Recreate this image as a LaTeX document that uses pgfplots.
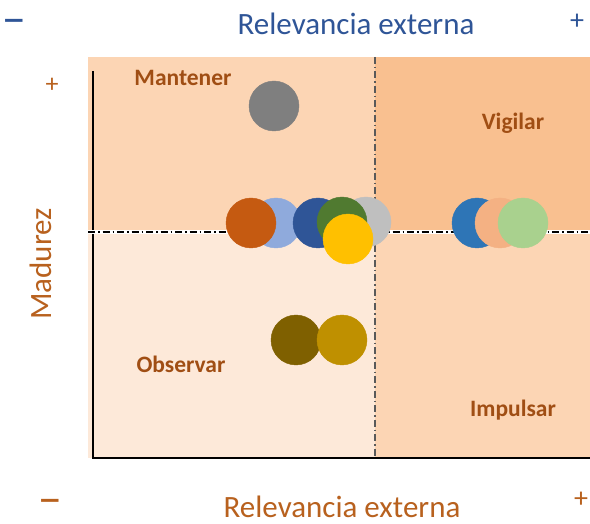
\documentclass[border=0pt]{standalone}
\usepackage{fontspec}
\setmainfont{Carlito}
\usepackage{graphicx}
\usepackage{pgfplots}
\pgfplotsset{compat=1.18}

\definecolor{bgtl}{RGB}{252,213,180}
\definecolor{bgtr}{RGB}{249,192,144}
\definecolor{bgbl}{RGB}{253,233,217}
\definecolor{bgbr}{RGB}{252,213,180}
\definecolor{titleblue}{RGB}{47,85,151}
\definecolor{axbrown}{RGB}{184,97,30}
\definecolor{lblbrown}{RGB}{160,78,20}
\definecolor{cOrange}{RGB}{197,90,17}
\definecolor{cLBlue}{RGB}{143,170,220}
\definecolor{cDBlue}{RGB}{47,85,151}
\definecolor{cGreen}{RGB}{80,122,48}
\definecolor{cLGray}{RGB}{191,191,191}
\definecolor{cYellow}{RGB}{255,192,0}
\definecolor{cGray}{RGB}{127,127,127}
\definecolor{cBlue}{RGB}{46,117,182}
\definecolor{cPeach}{RGB}{244,177,131}
\definecolor{cLGreen}{RGB}{169,209,142}
\definecolor{cOlive}{RGB}{127,96,0}
\definecolor{cGold}{RGB}{191,144,0}

\tikzset{ddot/.style={dash pattern=on 7pt off 3pt on 1.5pt off 3pt}}

\begin{document}
\begin{tikzpicture}
\begin{axis}[
  scale only axis, width=590pt, height=524pt,
  xmin=0, xmax=590, ymin=0, ymax=524, y dir=reverse,
  hide axis, clip=false,
  bubble/.style={only marks, mark=*, mark size=25pt},
]
% quadrants
\addplot[fill=bgtl, draw=none] coordinates {(88,57) (375,57) (375,232) (88,232)} -- cycle;
\addplot[fill=bgtr, draw=none] coordinates {(375,57) (590,57) (590,232) (375,232)} -- cycle;
\addplot[fill=bgbl, draw=none] coordinates {(88,232) (375,232) (375,458) (88,458)} -- cycle;
\addplot[fill=bgbr, draw=none] coordinates {(375,232) (590,232) (590,458) (375,458)} -- cycle;
% axis lines
\addplot[black, line width=2.6pt] coordinates {(93,71) (93,458) (590,458)};
% divider lines
\addplot[white, line width=4pt] coordinates {(88,232) (590,232)};
\addplot[black, line width=1.4pt, ddot] coordinates {(88,232) (590,232)};
\addplot[black!65, line width=1.4pt, ddot] coordinates {(375,57) (375,458)};
% bubbles
\addplot[bubble, cGray, mark options={draw=cGray, fill=cGray}] coordinates {(274,106)};
\addplot[bubble, cLBlue, mark options={draw=cLBlue, fill=cLBlue}] coordinates {(276,223)};
\addplot[bubble, cOrange, mark options={draw=cOrange, fill=cOrange}] coordinates {(251,223)};
\addplot[bubble, cLGray, mark options={draw=cLGray, fill=cLGray}] coordinates {(366,222)};
\addplot[bubble, cDBlue, mark options={draw=cDBlue, fill=cDBlue}] coordinates {(318,223)};
\addplot[bubble, cGreen, mark options={draw=cGreen, fill=cGreen}] coordinates {(342,222)};
\addplot[bubble, cYellow, mark options={draw=cYellow, fill=cYellow}] coordinates {(348,239)};
\addplot[bubble, cBlue, mark options={draw=cBlue, fill=cBlue}] coordinates {(477,223)};
\addplot[bubble, cPeach, mark options={draw=cPeach, fill=cPeach}] coordinates {(500,223)};
\addplot[bubble, cLGreen, mark options={draw=cLGreen, fill=cLGreen}] coordinates {(523,223)};
\addplot[bubble, cOlive, mark options={draw=cOlive, fill=cOlive}] coordinates {(296,340)};
\addplot[bubble, cGold, mark options={draw=cGold, fill=cGold}] coordinates {(342,340)};
% quadrant labels
\node[font=\fontsize{23.5}{27}\selectfont\bfseries, text=lblbrown] at (axis cs:183,78) {Mantener};
\node[font=\fontsize{23.5}{27}\selectfont\bfseries, text=lblbrown] at (axis cs:513,123) {Vigilar};
\node[font=\fontsize{23.5}{27}\selectfont\bfseries, text=lblbrown] at (axis cs:181,364) {Observar};
\node[font=\fontsize{23.5}{27}\selectfont\bfseries, text=lblbrown] at (axis cs:513,410) {Impulsar};
% axis titles
\node[font=\fontsize{31}{36}\selectfont, text=titleblue] at (axis cs:356,24) {Relevancia externa};
\node[font=\fontsize{34}{38}\selectfont\bfseries, text=titleblue] at (axis cs:14,25) {\scalebox{1.45}[1]{–}};
\node[font=\fontsize{28}{32}\selectfont, text=titleblue] at (axis cs:577,22) {+};
\node[font=\fontsize{31}{36}\selectfont, text=axbrown] at (axis cs:342,507) {Relevancia externa};
\node[font=\fontsize{34}{38}\selectfont\bfseries, text=axbrown] at (axis cs:50,505) {\scalebox{1.45}[1]{–}};
\node[font=\fontsize{28}{32}\selectfont, text=axbrown] at (axis cs:581,500) {+};
\node[font=\fontsize{26}{30}\selectfont, text=axbrown] at (axis cs:52,85) {+};
\node[font=\fontsize{31}{36}\selectfont, text=axbrown, rotate=90] at (axis cs:41,264) {Madurez};
\end{axis}
\pgfresetboundingbox
\path[use as bounding box] (current axis.south west) rectangle (current axis.north east);
\end{tikzpicture}
\end{document}
